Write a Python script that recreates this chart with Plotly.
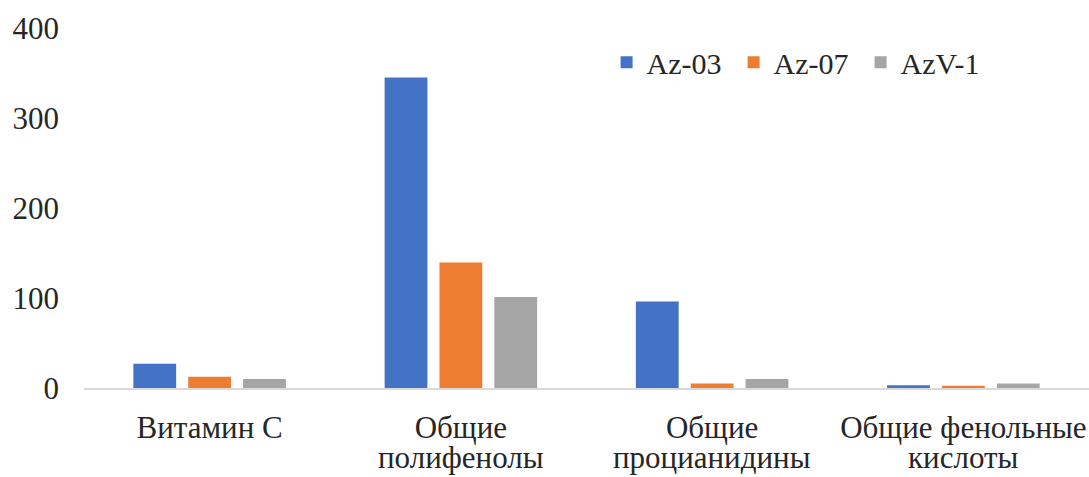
import plotly.graph_objects as go

# Category label lines (second line drawn below the tick label)
label_lines = [
    ["Витамин С"],
    ["Общие", "полифенолы"],
    ["Общие", "процианидины"],
    ["Общие фенольные", "кислоты"],
]
categories = [" ".join(lines) for lines in label_lines]

series_names = ["Az-03", "Az-07", "AzV-1"]
az03 = [27, 345, 96, 3]
az07 = [12.5, 139.5, 5, 2.5]
azv1 = [10, 101, 10, 5]
colors = ["#4472C4", "#ED7D31", "#A5A5A5"]

y_ticks = [0, 100, 200, 300, 400]

FONT = "'Times New Roman', 'Liberation Serif', serif"
TEXT = "#262626"

fig = go.Figure()
for name, vals, col in zip(series_names, [az03, az07, azv1], colors):
    fig.add_trace(go.Bar(
        x=categories,
        y=vals,
        name=name,
        marker=dict(color=col, line=dict(width=0)),
    ))

# second lines of the wrapped category labels
for cat, lines in zip(categories, label_lines):
    if len(lines) > 1:
        fig.add_annotation(
            x=cat, xref="x", y=0, yref="y",
            text=lines[1], showarrow=False,
            yanchor="middle", yshift=-69,
            font=dict(family=FONT, size=31, color=TEXT),
        )

fig.update_layout(
    width=1089,
    height=477,
    margin=dict(l=84, r=0, t=28, b=89),
    paper_bgcolor="white",
    plot_bgcolor="white",
    barmode="group",
    bargap=0.345,
    bargroupgap=0.22,
    font=dict(family=FONT, size=31, color=TEXT),
    showlegend=True,
    legend=dict(
        orientation="h",
        x=0.52,
        xanchor="left",
        y=0.905,
        yanchor="middle",
        font=dict(family=FONT, size=30, color=TEXT),
        bgcolor="rgba(0,0,0,0)",
        itemwidth=30,
        entrywidth=82,
    ),
    xaxis=dict(
        showline=True,
        linecolor="#D9D9D9",
        linewidth=2,
        showgrid=False,
        ticks="",
        tickvals=categories,
        ticktext=[lines[0] for lines in label_lines],
        ticklabelstandoff=11,
        tickfont=dict(family=FONT, size=31, color=TEXT),
    ),
    yaxis=dict(
        range=[0, 400],
        tickvals=y_ticks,
        showgrid=False,
        zeroline=False,
        showline=False,
        ticks="",
        ticklabelstandoff=24,
        tickfont=dict(family=FONT, size=31, color=TEXT),
    ),
)

fig.write_html("out.html")
